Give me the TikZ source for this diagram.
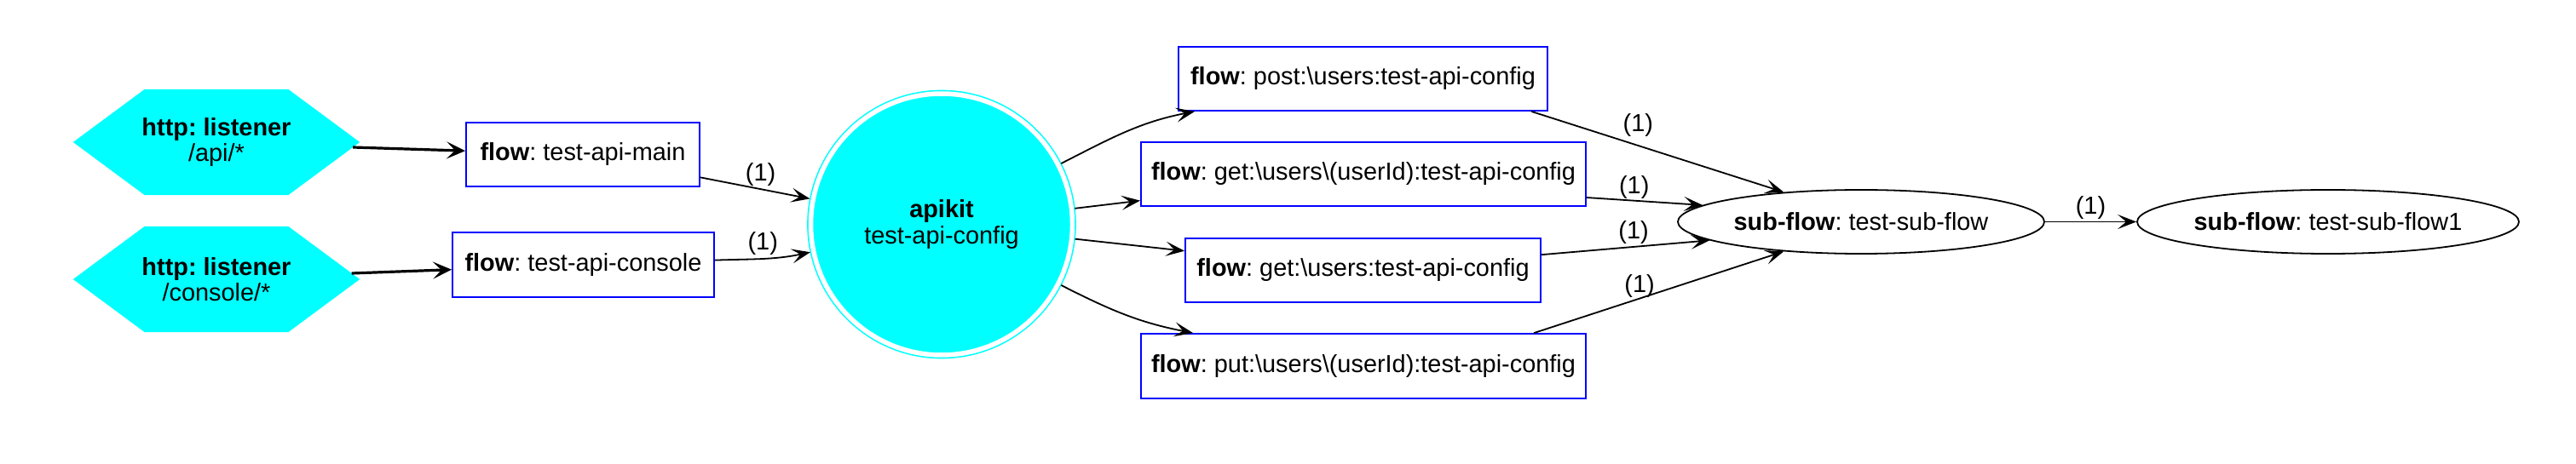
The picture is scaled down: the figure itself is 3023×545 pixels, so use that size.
\documentclass[tikz,border=0pt]{standalone}
\usepackage{fontspec}
\setmainfont{Liberation Sans}
\usetikzlibrary{arrows.meta,shapes.geometric}
\definecolor{gvcyan}{RGB}{0,255,255}
\definecolor{gvblue}{RGB}{0,0,255}
\pgfdeclarelayer{background}
\pgfsetlayers{background,main}
\frenchspacing
\begin{document}
\begin{tikzpicture}[x=1pt,y=-1pt,
  every node/.style={font=\fontsize{28.9}{30.5}\selectfont, inner sep=0pt},
  hexnode/.style={minimum width=336pt, minimum height=124pt, align=center},
  flowbox/.style={draw=gvblue, line width=1.8pt, minimum height=75pt, fill=white},
  apinode/.style={circle, minimum size=307pt, fill=gvcyan, draw=gvcyan, line width=1.6pt,
    double=white, double distance=5.5pt, outer sep=4pt, align=center},
  subnode/.style={ellipse, draw=black, line width=1.8pt, minimum height=75pt},
  conn/.style={line width=1.8pt, -{Stealth[length=22pt,width=17pt,inset=10pt]}},
  thickconn/.style={line width=3.2pt, -{Stealth[length=22pt,width=20pt,inset=10pt]}},
  lbl/.style={}
]
\useasboundingbox (0,0) rectangle (3023,545);

\node[hexnode] (h1) at (254,167) {\textbf{http: listener}\\/api/*};
\node[hexnode] (h2) at (254,328) {\textbf{http: listener}\\/console/*};
\begin{pgfonlayer}{background}
\foreach \h in {h1,h2}
  \fill[gvcyan] (\h.west) -- ([xshift=84pt]\h.north west) -- ([xshift=-84pt]\h.north east)
    -- (\h.east) -- ([xshift=-84pt]\h.south east) -- ([xshift=84pt]\h.south west) -- cycle;
\end{pgfonlayer}

\node[flowbox, minimum width=274pt] (fmain) at (684,181.5) {\textbf{flow}: test-api-main};
\node[flowbox, minimum width=307pt, minimum height=76pt] (fcons) at (684.5,311) {\textbf{flow}: test-api-console};
\node[apinode] (api) at (1105,263.5) {\textbf{apikit}\\test-api-config};
\node[flowbox, minimum width=433pt] (fpost) at (1599.5,92.5) {\textbf{flow}: post:\textbackslash users:test-api-config};
\node[flowbox, minimum width=522pt] (fgetid) at (1600,204.5) {\textbf{flow}: get:\textbackslash users\textbackslash(userId):test-api-config};
\node[flowbox, minimum width=417pt] (fget) at (1599.5,317.5) {\textbf{flow}: get:\textbackslash users:test-api-config};
\node[flowbox, minimum width=522pt, minimum height=76pt] (fput) at (1600,430) {\textbf{flow}: put:\textbackslash users\textbackslash(userId):test-api-config};
\node[subnode, minimum width=430pt] (sub) at (2184,260.5) {\textbf{sub-flow}: test-sub-flow};
\node[subnode, minimum width=448pt] (sub1) at (2732,260.5) {\textbf{sub-flow}: test-sub-flow1};

\draw[thickconn] ([shift={(-8pt,-6pt)}]h1.east) -- (fmain);
\draw[thickconn] ([shift={(-9.5pt,7pt)}]h2.east) -- (fcons);

\draw[conn] (fmain) -- node[lbl, pos=0.55, above=2.5pt] {(1)} (api);
\draw[conn] (fcons.2) to[out=2, in=192] node[lbl, pos=0.5, above=3.5pt] {(1)} (api.192);

\draw[conn] (api) to[out=27, in=191] (fpost);
\draw[conn] (api) -- (fgetid);
\draw[conn] (api) -- (fget);
\draw[conn] (api) to[out=-27, in=169] (fput);

\draw[conn] (fpost.-11) -- node[lbl, pos=0.423, above=9.5pt] {(1)} (sub.159);
\draw[conn] (fgetid.-6) -- node[lbl, pos=0.41, above=1.5pt] {(1)} (sub.174);
\draw[conn] (fget.5) -- node[lbl, pos=0.548, above=2.5pt] {(1)} (sub.187);
\draw[conn] (fput.11) -- node[lbl, pos=0.423, above=0.5pt] {(1)} (sub.201);
\draw[conn] (sub) -- node[lbl, pos=0.5, above=2.5pt] {(1)} (sub1);
\end{tikzpicture}
\end{document}
